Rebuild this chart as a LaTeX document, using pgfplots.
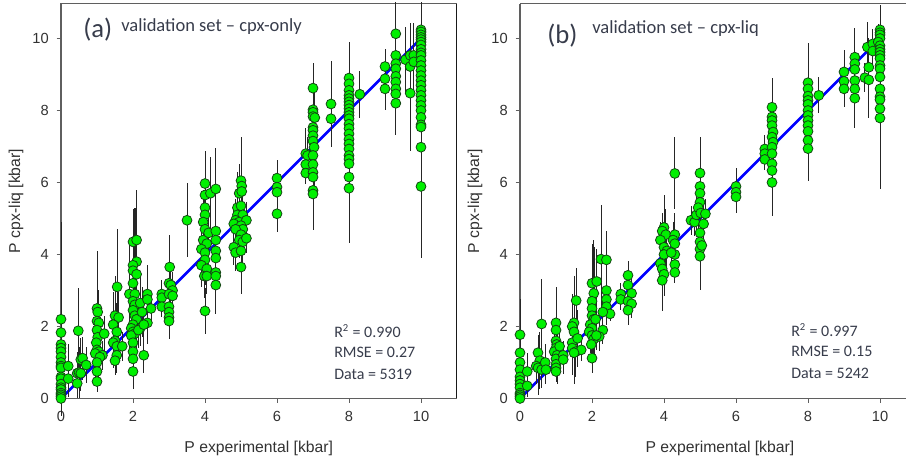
\documentclass[border=0pt]{standalone}
\usepackage{pgfplots}
\pgfplotsset{compat=1.18}
\usepackage{pgfplotstable}
\usepackage{fontspec}
\setmainfont{Liberation Sans}
\newfontfamily\calfont{Carlito}
\definecolor{ptgreen}{RGB}{0,240,0}
\definecolor{ptedge}{RGB}{20,70,20}
\definecolor{axgray}{RGB}{95,95,95}
\definecolor{txt}{RGB}{50,50,50}
\definecolor{ann}{RGB}{55,60,75}
\pgfplotstableread{
x y e
0 2.2 2.7
0 1.83 0.9
0 1.5 0.5
0 1.4 0.4
0 1.3 0.4
0 1.15 0.5
0 1 0.6
0 0.9 0.6
0 0.85 0.5
0 0.6 0.5
0 0.55 0.4
0 0.4 0.4
0 0.3 0.3
0 0.25 0.2
0 0.15 0.15
0 0.1 0.1
0 0.05 0.05
0 0 0
0.2 0.9 0.6
0.2 0.55 0.5
0.48 1.88 1.2
0.45 0.7 0.6
0.5 0.72 0.7
0.45 0.42 0.4
0.55 0.7 0.5
0.55 1.08 0.6
0.6 1.12 0.6
0.7 0.93 0.5
1 2.5 0.7
1.02 2.4 1.7
1 2.15 1
1.05 2.1 0.9
1 1.9 1.1
1.02 1.7 1
0.98 1.55 0.9
1 1.35 0.9
1.05 1.3 0.8
0.95 1.25 0.7
1.15 1.2 0.4
1.08 1.15 0.5
1 1 0.6
1 0.75 0.5
1 0.47 0.3
1.2 1.8 0.5
1.56 3.1 1.6
1.5 2.3 1.1
1.6 2.25 0.7
1.45 2.05 0.9
1.55 1.85 0.8
1.5 1.6 0.7
1.45 1.55 0.7
1.55 1.45 0.6
1.7 1.45 0.4
1.55 1.2 0.5
1.5 1.05 0.4
2 4.35 0.9
2.1 4.4 0.8
2.1 3.8 1.4
2 3.7 1.3
2 3.55 1.2
2.1 3.45 1.1
2 3.2 1
1.9 2.9 1.5
2.05 2.9 1.2
2 2.7 1.3
2.05 2.6 1.2
2 2.45 1.1
2.05 2.3 1
2.1 2.2 0.9
2 2.05 1.1
1.95 1.95 0.8
2 1.85 0.9
2.05 1.8 0.8
1.95 1.75 0.5
2 1.55 0.7
2 1.3 0.6
2 1.1 0.5
2 0.75 0.5
2.2 2.65 0.8
2.4 2.9 0.8
2.4 2.75 0.6
2.5 2.5 0.4
2.4 2.1 0.6
2.25 2.4 0.7
2.3 1.2 0.5
2.2 1.95 0.5
2.15 1.9 0.5
2.3 2.05 0.6
2.8 2.9 0.4
2.8 2.8 0.4
2.8 2.55 0.3
3.02 3.65 0.9
3 3.2 0.6
3.05 3.15 0.5
3.1 3 0.5
3 2.9 0.6
3.1 2.85 0.5
3 2.55 0.5
3 2.4 0.6
3 2.25 0.6
3 2.15 0.5
3.5 4.95 1.03
4 5.97 0.9
4 5.65 0.8
4 5.3 0.8
4 5.1 0.9
3.95 4.9 0.9
4 4.7 0.7
3.95 4.4 0.7
4.05 4.3 0.8
3.9 4.15 0.7
4 4.05 0.6
4 3.85 0.7
3.9 3.7 0.6
4.05 3.6 0.6
3.98 3.4 0.6
4.05 3.4 0.5
4 2.43 0.63
4.15 5.7 1
4.3 5.82 1
4.1 4.6 0.6
4.3 4.65 2.3
4.3 4.4 0.8
4.3 4.1 0.8
4.3 3.9 0.7
4.3 3.5 0.6
4.3 3.4 0.6
4.3 3.15 0.6
5 6.05 1.2
5.02 5.9 1.2
4.95 5.7 0.8
5.02 5.75 1.3
4.9 5.3 1
5 5.35 0.9
4.9 5.1 0.7
5.05 5.1 0.8
4.85 4.95 0.6
4.95 4.9 0.6
5.15 4.95 0.5
4.8 4.85 0.5
5 4.8 0.6
5.05 4.7 0.6
4.85 4.7 0.5
5 4.55 0.6
4.95 4.4 0.5
5.05 4.35 0.6
5.15 4.45 0.4
4.8 4.2 0.5
4.85 4.05 0.5
5 4.1 0.6
5 3.65 0.75
6 6.12 0.5
6 5.87 0.6
6 5.73 0.9
6 5.13 0.5
6.8 6.8 0.7
6.85 6.75 0.5
6.8 6.5 0.4
6.8 6.26 0.3
7 8.62 0.7
7 8.02 0.9
7 7.95 1
7 7.83 0.8
7.05 7.8 0.8
7 7.53 0.9
7 7.45 1
7 7.3 0.9
7 7.15 0.8
7.03 6.98 0.7
7 6.75 0.8
7 6.5 0.8
7 6.28 0.7
7 6.15 1
7 5.78 1.1
7 5.68 1
7.5 8.18 1.19
7.5 7.77 0.5
8 8.9 1
8 8.74 0.9
8 8.56 0.9
8 8.42 1
8 8.33 0.8
8 8.24 0.8
8 8.15 0.7
8 8.05 0.8
8 7.95 0.7
8 7.86 0.8
8 7.77 0.9
8 7.62 0.7
8 7.5 0.8
8 7.35 0.8
8 7.2 0.9
8 7.07 2.75
8 6.93 0.8
8 6.75 0.7
8 6.65 0.6
8 6.52 0.7
8 6.15 0.5
8 5.84 0.4
8.3 8.45 0.65
9 9.22 0.5
9 8.88 0.65
9 8.6 0.6
9.3 10.13 0.8
9.3 9.53 0.8
9.3 9.3 0.7
9.3 9.16 1.84
9.3 8.95 0.7
9.3 8.79 0.6
9.3 8.6 0.5
9.3 8.46 0.5
9.3 8.2 0.5
9.57 9.41 0.9
9.7 9.53 0.9
9.7 9.22 1
9.7 8.48 1.6
9.8 9.53 0.9
9.8 9.35 0.9
10 10.24 0.76
10 10.18 0.8
10 10.1 0.8
10 10.03 0.8
10 9.97 0.9
10 9.9 0.9
10 9.82 1.1
10 9.7 1
10 9.6 1.2
10 9.53 1
10 9.39 1
10 9.25 1.1
10 9.11 1
10 8.97 1
10 8.83 1.1
10 8.7 1.2
10 8.56 1
10 8.42 1
10 8.28 1.2
10 8.14 1.3
10 8 1.2
10 7.81 1.3
10 7.6 1.2
10 7.54 1.2
10 6.98 1.4
10 5.89 2
}\dataA
\pgfplotstableread{
x y e
2.05 3.6 1.7
2.08 3.4 1.9
2.1 3.8 2
2.03 3.2 1.5
2 2.6 1
1.02 1.8 1.2
1 1.3 0.8
1.5 1.8 1
4.03 4.3 1
3.98 4.8 1
4.3 4.2 0.9
5.02 5.6 1.6
5 5.2 1.1
4.95 4.6 0.7
7.03 7.3 1.3
7.03 6.6 1
8 7.9 0.6
10 9.5 0.8
}\overA
\pgfplotstableread{
x y e
0 1.77 1
0 1.27 0.6
0 1 0.5
0 0.8 0.4
0 0.6 0.4
0 0.5 0.3
0 0.4 0.3
0 0.3 0.25
0 0.15 0.15
0 0.1 0.1
0 0.05 0.05
0 0 0
0.2 0.75 0.5
0.2 0.35 0.3
0.6 2.07 1.25
0.5 1.27 0.5
0.55 1.05 0.8
0.45 0.9 0.5
0.5 0.85 0.75
0.6 0.8 0.5
0.7 1 0.5
0.72 0.8 0.4
1 2.1 1
1 1.9 1.1
1 1.6 1
1.02 1.5 0.9
1 1.4 0.8
0.95 1.3 0.6
1.03 1.2 0.8
1 1.1 0.6
1 0.95 0.5
1 0.85 0.4
1 0.75 0.3
1.1 1.45 0.5
1.2 1.2 0.4
1.2 1.08 0.4
1.56 2.72 0.9
1.5 2.1 1.2
1.45 2 0.9
1.5 1.85 1.3
1.45 1.55 0.9
1.6 1.67 0.8
1.45 1.4 0.6
1.55 1.3 0.7
1.7 1.35 0.3
1.5 1.27 0.7
2 3.2 1.1
2.05 2.92 1.4
2.13 3.25 0.9
2 2.7 1
2 2.5 0.9
2 2.3 0.8
2.05 2.2 0.7
1.95 2.05 0.8
2.1 2.2 0.6
2 1.95 0.6
1.92 1.85 0.4
2 1.75 0.5
2.05 1.65 0.5
1.98 1.5 0.4
2 1.12 0.4
2.25 3.87 1.5
2.4 3.85 0.8
2.4 3 0.6
2.4 2.75 0.5
2.4 2.55 0.5
2.5 2.35 0.2
2.3 2.4 0.4
2.3 1.9 0.4
2.2 1.72 0.4
2.12 1.75 0.4
2.8 2.9 0.3
2.8 2.75 0.3
3 3.42 0.4
3 3.15 0.4
3.1 2.92 0.4
3 2.7 0.4
3.1 2.63 0.4
3 2.45 0.4
4 4.75 0.9
3.95 4.65 0.5
4.05 4.55 0.7
3.9 4.4 0.5
4 4.2 0.5
4.08 4.1 0.6
4 4 0.5
3.9 3.75 0.4
3.95 3.6 0.5
4 3.45 0.6
3.95 3.28 0.85
4.3 6.25 1
4.3 4.55 0.6
4.25 4.4 0.5
4.3 4.3 0.6
4.3 4 0.6
4.3 3.72 0.5
4.3 3.5 0.3
4.2 4.05 0.4
4.75 4.95 0.4
4.85 4.9 0.4
4.9 5.1 0.5
5 6.26 1
5 5.89 0.8
5 5.7 0.8
5 5.45 0.7
4.95 5.3 0.7
5.02 5.15 0.7
5.15 5.13 0.4
5.1 4.85 0.5
5 4.6 0.5
5 4.35 0.6
5 4.15 0.3
5.05 4.25 0.4
5 3.95 0.95
6 5.89 0.5
6 5.73 0.57
6 5.6 0.4
6.8 6.93 0.4
6.8 6.8 0.4
6.8 6.64 0.3
7 8.09 0.7
7 7.82 0.8
7 7.72 0.7
7 7.58 0.7
7.03 7.4 0.8
7 7.26 0.8
7.03 7.12 0.9
7 6.98 1.92
7 6.8 0.9
7 6.52 0.7
7 6.33 0.5
7 6 0.4
8 8.77 1.1
8 8.6 0.9
8 8.4 0.8
8 8.28 0.8
8 8.17 0.9
8 8 0.8
8 7.86 0.7
8 7.72 0.9
8 7.58 0.8
8 7.42 0.7
8 7.17 0.8
8 6.94 0.9
8.3 8.42 0.5
9 9.07 0.6
9 8.81 0.65
9 8.6 0.5
9.3 9.48 0.8
9.3 9.3 0.7
9.3 9.14 0.8
9.3 8.83 1.33
9.3 8.6 0.5
9.3 8.34 0.5
9.58 8.91 0.4
9.69 9.2 0.8
9.69 8.85 1.05
9.65 9.76 0.7
9.8 9.85 0.4
9.8 9.65 0.4
10 10.24 0.4
10 10.16 0.5
10 10.1 0.5
10 10 0.6
9.95 9.9 0.5
10 9.8 0.6
10 9.7 0.5
10 9.62 0.6
10 9.53 0.6
10 9.44 0.5
10 9.25 0.7
10 9.16 0.7
10 8.93 0.8
10 8.6 0.8
10 8.38 2.55
10 8.3 0.8
10 8.05 0.8
10 7.79 0.5
}\dataB
\pgfplotstableread{
x y e
2.05 3 1.4
2.02 2.5 1
2.08 2.6 1.6
1.52 1.9 1.5
1.5 1.6 1.1
1.02 1.8 1.3
1 1.3 0.7
4 4 1
4.03 4.4 0.8
4.3 4.1 0.6
5 4.9 0.9
7.02 6.8 1
7.02 7.5 0.8
8 7.8 0.5
10 9.7 0.7
}\overB
\pgfplotsset{
  panel/.style={
    scale only axis, x=27pt, y=27pt, anchor=origin,
    xmin=0, ymin=0, ymax=10.97, clip=false,
    xtick={0,2,...,10}, ytick={0,2,...,10},
    tick style={axgray, line width=0.75pt},
    tick align=outside, major tick length=3.2pt,
    tick label style={font=\fontsize{11}{13}\selectfont, text=txt},
    /pgf/number format/assume math mode=true,
    xticklabel style={yshift=-3pt},
    yticklabel style={xshift=-2.5pt},
    axis line style={axgray, line width=0.9pt},
    xtick pos=bottom, ytick pos=left,
    label style={font=\fontsize{11.8}{14}\selectfont, text=txt},
  },
  bars/.style={
    error bars/.cd, y dir=both, y explicit,
    error mark=none,
    error bar style={black!85, line width=0.75pt},
  },
  pts/.style={
    only marks, mark=*, mark size=3.7pt,
    mark options={fill=ptgreen, draw=ptedge, line width=0.6pt},
    bars,
  },
  over/.style={draw=none, no markers, forget plot, bars},
  ref/.style={blue, line width=1.9pt, forget plot},
}
\newcommand\PX[2]{({#1*0.75pt},{(459-#2)*0.75pt})}
\begin{document}
\begin{tikzpicture}
\useasboundingbox (0,0) rectangle (679.5pt,344.25pt);
\begin{axis}[panel, at={(45.75pt,45.4pt)}, xmax=10.986,
  xlabel={P experimental [kbar]}, ylabel={P cpx-liq [kbar]},
  xlabel style={at={(axis description cs:0.5,-0.127)}, anchor=center},
  ylabel style={at={(axis description cs:-0.1136,0.5)}, anchor=center},
]
\addplot[ref] coordinates {(0.1,0.1) (9.9,9.9)};
\addplot[pts] table[x=x, y=y, y error=e] {\dataA};
\addplot[over] table[x=x, y=y, y error=e] {\overA};
\draw[black!90, line width=0.9pt] (rel axis cs:1,0) -- (rel axis cs:1,1);
\end{axis}
\begin{axis}[panel, at={(390pt,45.4pt)}, xmax=10.72,
  axis y line*=left, axis x line*=bottom,
  xlabel={P experimental [kbar]}, ylabel={P cpx-liq [kbar]},
  xlabel style={at={(axis description cs:0.518,-0.127)}, anchor=center},
  ylabel style={at={(axis description cs:-0.1166,0.5)}, anchor=center},
]
\addplot[ref] coordinates {(0.1,0.1) (9.9,9.9)};
\addplot[pts] table[x=x, y=y, y error=e] {\dataB};
\addplot[over] table[x=x, y=y, y error=e] {\overB};
\draw[axgray, line width=0.9pt] (rel axis cs:0,1) -- (rel axis cs:1,1);
\end{axis}
\begin{scope}[every node/.style={text=ann, inner sep=0pt, anchor=west}]
\node[font=\calfont\fontsize{20}{24}\selectfont] at \PX{83}{30} {(a)};
\node[font=\calfont\fontsize{13.9}{16}\selectfont] at \PX{121}{27} {validation set – cpx-only};
\node[font=\calfont\fontsize{20}{24}\selectfont] at \PX{547}{36} {(b)};
\node[font=\calfont\fontsize{13.9}{16}\selectfont] at \PX{592}{29} {validation set – cpx-liq};
\node[font=\calfont\fontsize{12}{14}\selectfont] at \PX{334}{331} {R\textsuperscript{2} = 0.990};
\node[font=\calfont\fontsize{12}{14}\selectfont] at \PX{334}{352} {RMSE = 0.27};
\node[font=\calfont\fontsize{12}{14}\selectfont] at \PX{334}{374} {Data = 5319};
\node[font=\calfont\fontsize{12}{14}\selectfont] at \PX{791}{330} {R\textsuperscript{2} = 0.997};
\node[font=\calfont\fontsize{12}{14}\selectfont] at \PX{791}{351} {RMSE = 0.15};
\node[font=\calfont\fontsize{12}{14}\selectfont] at \PX{791}{373} {Data = 5242};
\end{scope}
\end{tikzpicture}
\end{document}
